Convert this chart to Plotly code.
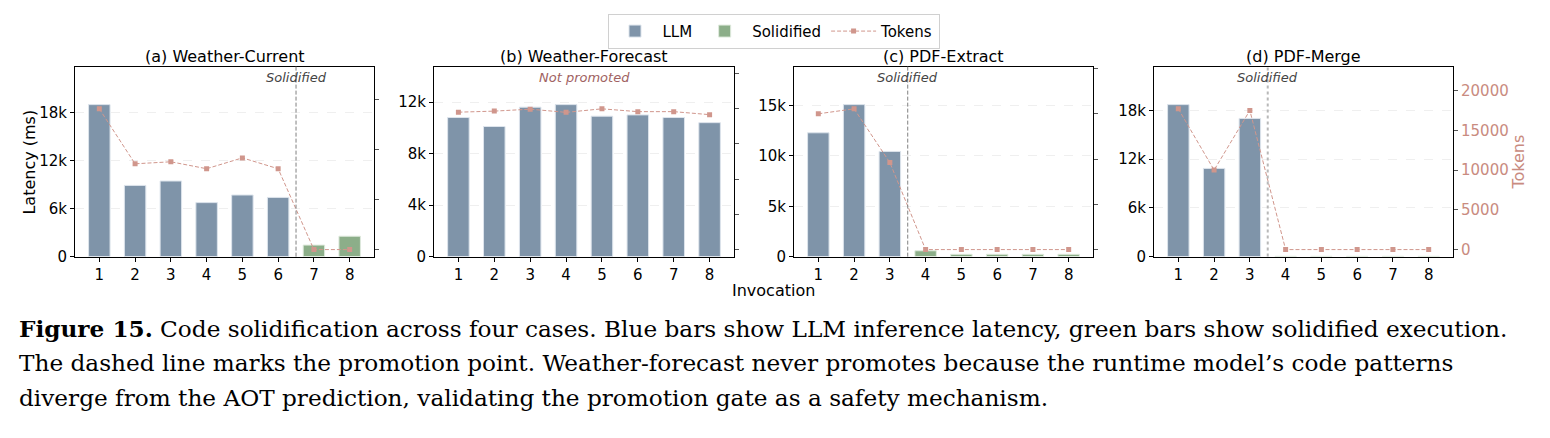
import plotly.graph_objects as go

# ---------------- data ----------------
invocations = [1, 2, 3, 4, 5, 6, 7, 8]
titles = ["(a) Weather-Current", "(b) Weather-Forecast", "(c) PDF-Extract", "(d) PDF-Merge"]

latency_a = [19000, 8900, 9450, 6750, 7700, 7400, 1440, 2550]
latency_b = [10800, 10100, 11600, 11800, 10900, 11000, 10800, 10400]
latency_c = [12300, 15100, 10450, 580, 230, 230, 230, 230]
latency_d = [18700, 10850, 17000, 40, 40, 40, 40, 40]

tokens_a = [14030, 8550, 8750, 8060, 9140, 8060, 0, 0]
tokens_b = [7800, 7860, 7970, 7790, 7990, 7830, 7830, 7660]
tokens_c = [15020, 15570, 9630, 0, 0, 0, 0, 0]
tokens_d = [17700, 10000, 17500, 0, 0, 0, 0, 0]

# first solidified invocation (None = never promoted)
promotion = [7, None, 4, 4]

lat_tickvals = [[0, 6000, 12000, 18000], [0, 4000, 8000, 12000],
                [0, 5000, 10000, 15000], [0, 6000, 12000, 18000]]
lat_ticktext = [["0", "6k", "12k", "18k"], ["0", "4k", "8k", "12k"],
                ["0", "5k", "10k", "15k"], ["0", "6k", "12k", "18k"]]
tok_dtick = [5000, 2000, 5000, 5000]

latencies = [latency_a, latency_b, latency_c, latency_d]
tokens = [tokens_a, tokens_b, tokens_c, tokens_d]

caption_lines = [
    "<b>Figure 15.</b> Code solidification across four cases. Blue bars show LLM inference latency, green bars show solidified execution.",
    "The dashed line marks the promotion point. Weather-forecast never promotes because the runtime model\u2019s code patterns",
    "diverge from the AOT prediction, validating the promotion gate as a safety mechanism.",
]

# ---------------- style ----------------
W, H = 1550, 438
LLM_C = "#7f94a9"
SOL_C = "#8cae89"
TOK_C = "#d0968c"
TOK_TXT = "#c98b80"
FONT = "DejaVu Sans"

x_px = [(75, 374), (434, 734), (794, 1093), (1154, 1453)]
y_top, y_bot = 68, 262
ydom = [1 - y_bot / H, 1 - y_top / H]

fig = go.Figure()
layout = dict(
    width=W, height=H, margin=dict(l=0, r=0, t=0, b=0),
    paper_bgcolor="white", plot_bgcolor="white",
    barmode="overlay", font=dict(family=FONT, size=14, color="black"),
    showlegend=True,
)
annotations = []
shapes = []

for k in range(4):
    xi = "" if k == 0 else str(k + 1)
    yl = "" if k == 0 else str(2 * k + 1)
    yr = str(2 * k + 2)
    lat = latencies[k]
    tok = tokens[k]
    p = promotion[k]
    llm_vals = [v if (p is None or x < p) else None for x, v in zip(invocations, lat)]
    sol_vals = [v if (p is not None and x >= p) else None for x, v in zip(invocations, lat)]

    fig.add_trace(go.Bar(x=invocations, y=llm_vals, width=0.6, name="LLM",
                         marker=dict(color=LLM_C, line=dict(color="#dde4ec", width=1)),
                         xaxis="x" + xi, yaxis="y" + yl, legendgroup="llm",
                         showlegend=(k == 0)))
    fig.add_trace(go.Bar(x=invocations, y=sol_vals, width=0.6, name="Solidified",
                         marker=dict(color=SOL_C, line=dict(color="#dfeadd", width=1)),
                         xaxis="x" + xi, yaxis="y" + yl, legendgroup="sol",
                         showlegend=(k == 0)))
    fig.add_trace(go.Scatter(x=invocations, y=tok, mode="lines+markers", name="Tokens",
                             line=dict(color=TOK_C, width=1, dash="4px,2px"),
                             marker=dict(symbol="square", size=5, color=TOK_C),
                             xaxis="x" + xi, yaxis="y" + yr, legendgroup="tok",
                             showlegend=(k == 0)))

    d0, d1 = x_px[k][0] / W, x_px[k][1] / W
    layout["xaxis" + xi] = dict(
        domain=[d0, d1], range=[0.32, 8.68], anchor="y" + yl,
        tickvals=invocations, ticks="outside", ticklen=4, tickcolor="black",
        showline=True, linecolor="black", linewidth=1, mirror=True,
        showgrid=False, zeroline=False, tickfont=dict(size=15),
    )
    layout["yaxis" + yl] = dict(
        domain=ydom, range=[0, 1.25 * max(lat)], anchor="x" + xi,
        tickvals=lat_tickvals[k], ticktext=lat_ticktext[k],
        ticks="outside", ticklen=4, tickcolor="black",
        showline=True, linecolor="black", linewidth=1, mirror=True,
        showgrid=True, gridcolor="#efefef", griddash="dash", gridwidth=1,
        zeroline=False, tickfont=dict(size=15),
    )
    ymax_t = max(tok)
    ry = dict(
        overlaying="y" + yl, side="right", anchor="x" + xi,
        range=[-0.05 * ymax_t, 1.3 * ymax_t], dtick=tok_dtick[k], tick0=0,
        tickformat="d",
        ticks="outside", ticklen=4, tickcolor="#555555",
        showgrid=False, zeroline=False, showline=False,
        showticklabels=(k == 3), tickfont=dict(size=15, color=TOK_TXT),
    )
    if k == 3:
        ry["title"] = dict(text="Tokens", font=dict(size=16, color=TOK_TXT), standoff=4)
    layout["yaxis" + yr] = ry

    # subplot titles
    annotations.append(dict(text=titles[k], x=(d0 + d1) / 2, y=1 - 57.5 / H,
                            xref="paper", yref="paper", showarrow=False,
                            xanchor="center", yanchor="middle",
                            font=dict(size=16, color="black")))
    if p is not None:
        xl = p - 0.5
        shapes.append(dict(type="line", xref="x" + xi, yref="y" + yl + " domain",
                           x0=xl, x1=xl, y0=0, y1=1,
                           line=dict(color="#b8b8b8" if k == 3 else "#808080",
                                     width=2 if k == 3 else 1,
                                     dash="dot" if k == 3 else "4px,2px")))
        annotations.append(dict(text="<i>Solidified</i>", x=xl, y=1 - (79 - y_top) / (y_bot - y_top),
                                xref="x" + xi, yref="y" + yl + " domain", showarrow=False,
                                xanchor="center", yanchor="middle",
                                font=dict(size=13, color="#444444")))
    else:
        annotations.append(dict(text="<i>Not promoted</i>", x=4.5, y=1 - (79 - y_top) / (y_bot - y_top),
                                xref="x" + xi, yref="y" + yl + " domain", showarrow=False,
                                xanchor="center", yanchor="middle",
                                font=dict(size=13, color="#a06262")))

annotations.append(dict(text="Latency (ms)", x=30 / W, y=1 - 166 / H, xref="paper", yref="paper",
                        showarrow=False, textangle=-90, xanchor="center", yanchor="middle",
                        font=dict(size=16, color="black")))
annotations.append(dict(text="Invocation", x=773 / W, y=1 - 297 / H, xref="paper", yref="paper",
                        showarrow=False, xanchor="center", yanchor="middle",
                        font=dict(size=16, color="black")))

cap_y = [335, 370.5, 405.5]
for line, cy in zip(caption_lines, cap_y):
    annotations.append(dict(text=line, x=17 / W, y=1 - cy / H, xref="paper", yref="paper",
                            showarrow=False, xanchor="left", yanchor="middle",
                            font=dict(family="DejaVu Serif", size=23.2, color="black")))

layout["annotations"] = annotations
layout["shapes"] = shapes
layout["legend"] = dict(orientation="h", x=773.5 / W, xanchor="center", y=1 - 32 / H, yanchor="middle",
                        bordercolor="#d0d0d0", borderwidth=1, bgcolor="white",
                        font=dict(size=15), itemwidth=45, tracegroupgap=0)
fig.update_layout(**layout)
fig.write_html("out.html")
